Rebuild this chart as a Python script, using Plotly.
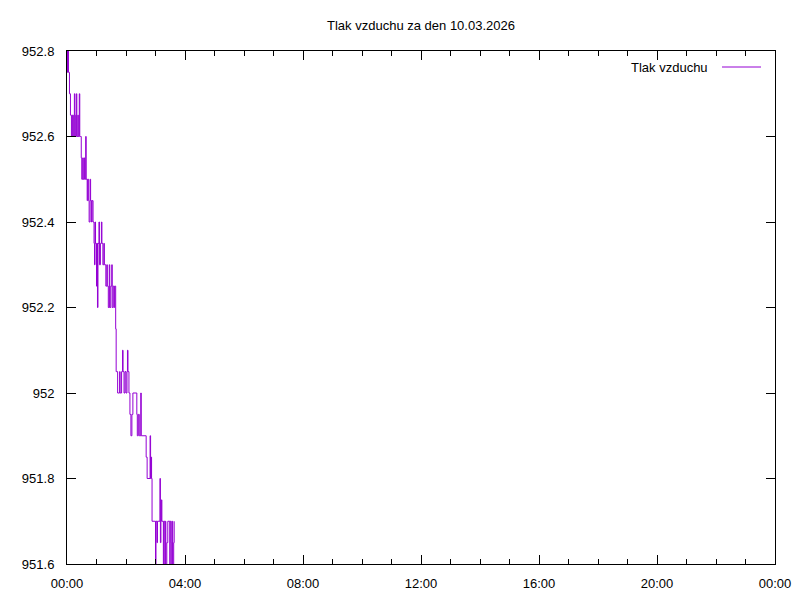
import plotly.graph_objects as go

DAY = "2026-03-10"
times = ["00:00","00:01","00:03","00:05","00:07","00:09","00:11","00:13","00:15","00:16","00:17","00:19","00:20","00:22","00:23","00:25","00:26","00:28",
         "00:29","00:30","00:32","00:33","00:35","00:36","00:38","00:39",
         "00:41","00:42","00:44","00:45","00:47","00:48","00:50","00:51","00:53",
         "00:55","00:56","00:57","00:58",
         "01:00","01:01","01:02","01:03","01:05","01:06","01:08","01:10","01:11","01:13","01:15","01:16",
         "01:19","01:21","01:22","01:24","01:26","01:27","01:29","01:31","01:32","01:34","01:36","01:37",
         "01:39","01:40",
         "01:43","01:47","01:48","01:51","01:53","01:54","01:56","01:58","02:00","02:02","02:03","02:04","02:06",
         "02:08","02:10","02:12","02:14","02:22","02:23","02:25","02:27","02:30","02:31",
         "02:41","02:43","02:49","02:50","02:51","02:52",
         "02:53","03:00","03:01","03:03","03:04","03:09","03:10","03:11","03:12","03:13",
         "03:16","03:17","03:19","03:20","03:21","03:23","03:25",
         "03:29","03:30","03:32","03:33","03:34","03:35","03:37","03:38"]
pressure = [952.75,952.80,952.75,952.70,952.65,952.60,952.65,952.60,952.70,952.65,952.60,952.70,952.60,952.65,952.60,952.70,952.60,952.60,
            952.55,952.50,952.55,952.50,952.55,952.50,952.60,952.50,
            952.45,952.50,952.45,952.40,952.50,952.45,952.40,952.45,952.40,
            952.35,952.30,952.40,952.35,
            952.25,952.35,952.20,952.35,952.40,952.30,952.35,952.40,952.35,952.30,952.35,952.30,
            952.25,952.30,952.25,952.20,952.30,952.20,952.25,952.30,952.20,952.25,952.20,952.25,
            952.15,952.05,
            952.00,952.05,952.00,952.05,952.10,952.05,952.00,952.05,952.00,952.05,952.10,952.05,952.00,
            951.95,951.90,951.95,952.00,951.95,951.90,951.95,951.90,952.00,951.90,
            951.85,951.80,951.90,951.80,951.85,951.80,
            951.70,951.55,951.70,951.65,951.70,951.80,951.65,951.70,951.75,951.70,
            951.55,951.70,951.60,951.70,951.55,951.65,951.70,
            951.55,951.70,951.65,951.55,951.70,951.55,951.65,951.70]

x = [f"{DAY} {t}" for t in times]

font = "Liberation Sans, Arial, sans-serif"
fig = go.Figure()
fig.add_trace(go.Scatter(x=x, y=pressure, mode="lines", line_shape="hv",
                         line=dict(color="#9400D3", width=1), name="Tlak vzduchu",
                         showlegend=False))

# page body has an 8px margin, compensate
fig.update_layout(
    width=800, height=600,
    paper_bgcolor="white", plot_bgcolor="white",
    margin=dict(l=59, r=33, t=43, b=44),
    font=dict(family=font, size=13, color="black"),
    title=dict(text="Tlak vzduchu za den 10.03.2026", xref="paper", x=0.5, xanchor="center",
               y=1 - 17/600, yanchor="middle", font=dict(size=13)),
)
fig.update_xaxes(type="date", range=["2026-03-10 00:00", "2026-03-11 00:00"],
                 tickformat="%H:%M", dtick=4*3600*1000, tick0="2026-03-10 00:00",
                 ticks="inside", ticklen=9, tickcolor="black", showgrid=False, zeroline=False,
                 showline=True, linecolor="black", linewidth=1, mirror="allticks",
                 minor=dict(dtick=3600*1000, ticks="inside", ticklen=5, tickcolor="black", showgrid=False),
                 ticklabelstandoff=7)
fig.update_yaxes(range=[951.6, 952.8], dtick=0.2, tick0=951.6,
                 ticks="inside", ticklen=9, tickcolor="black", showgrid=False, zeroline=False,
                 showline=True, linecolor="black", linewidth=1, mirror="allticks",
                 ticklabelstandoff=9)

fig.add_annotation(xref="paper", yref="paper", x=(710-67)/708, y=(564-67)/513,
                   text="Tlak vzduchu", showarrow=False, xanchor="right", yanchor="middle",
                   font=dict(size=13))
fig.add_shape(type="line", xref="paper", yref="paper",
              x0=(722-67)/708, x1=(761-67)/708, y0=(564-67)/513, y1=(564-67)/513,
              line=dict(color="#9400D3", width=1))

fig.write_html("out.html")
